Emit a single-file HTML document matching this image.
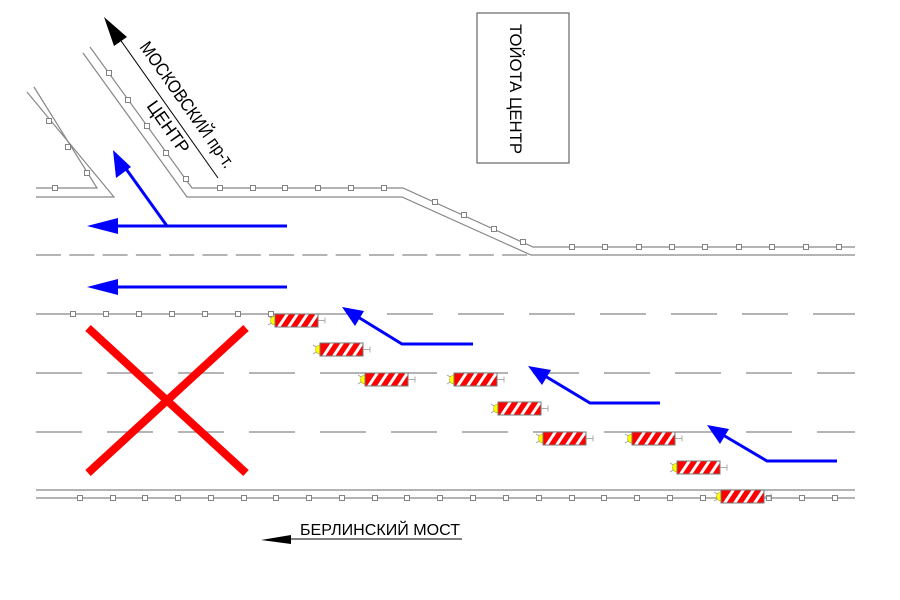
<!DOCTYPE html>
<html><head><meta charset="utf-8"><style>html,body{margin:0;padding:0;background:#fff}svg{display:block}</style></head>
<body>
<svg width="900" height="600" viewBox="0 0 900 600" xmlns="http://www.w3.org/2000/svg">
<defs>
<clipPath id="cc"><rect x="0" y="0" width="43" height="13"/></clipPath>
<g id="car">
<line x1="-7" y1="2" x2="-2" y2="5" stroke="#999" stroke-width="0.8"/>
<line x1="-7" y1="11" x2="-2" y2="8" stroke="#999" stroke-width="0.8"/>
<circle cx="0" cy="6.5" r="4.5" fill="#ff0" stroke="#aa0" stroke-width="0.6"/>
<rect x="0" y="0" width="43" height="13" fill="#f00"/>
<g clip-path="url(#cc)" stroke="#fff" stroke-width="3">
<line x1="3" y1="14" x2="13" y2="-1"/><line x1="13" y1="14" x2="23" y2="-1"/><line x1="23" y1="14" x2="33" y2="-1"/><line x1="33" y1="14" x2="43" y2="-1"/>
</g>
<rect x="0" y="0" width="43" height="13" fill="none" stroke="#777" stroke-width="1"/>
<line x1="43" y1="6.5" x2="50" y2="6.5" stroke="#999" stroke-width="0.8"/>
<line x1="50" y1="3.5" x2="50" y2="9.5" stroke="#999" stroke-width="0.8"/>
</g>
<rect id="p" x="-2.5" y="-2.5" width="5" height="5" fill="#fff" stroke="#777" stroke-width="0.9"/>
</defs>

<g stroke="#888" stroke-width="1.2" fill="none">
<polyline points="34,87 97,188 36,188"/>
<polyline points="27,92 114,197 36,197"/>
<polyline points="90,47 192,188 403,188 533,247 855,247"/>
<polyline points="83,53 187,197 402,197 531,255 855,255"/>
<line x1="36" y1="255" x2="531" y2="255" stroke-dasharray="25 8.3"/>
<line x1="36" y1="314" x2="300" y2="314"/>
<line x1="316" y1="314" x2="855" y2="314" stroke-dasharray="46 25"/>
<line x1="36" y1="373" x2="855" y2="373" stroke-dasharray="46 25"/>
<line x1="36" y1="432" x2="855" y2="432" stroke-dasharray="46 25"/>
<line x1="36" y1="490" x2="855" y2="490"/>
<line x1="36" y1="498" x2="855" y2="498"/>
</g>

<g>
<use href="#p" x="55" y="188"/><use href="#p" x="49" y="121"/><use href="#p" x="68" y="147"/><use href="#p" x="87" y="173"/>
<use href="#p" x="109" y="73"/><use href="#p" x="128" y="100"/><use href="#p" x="147" y="126"/><use href="#p" x="166" y="153"/><use href="#p" x="186" y="179"/>
<use href="#p" x="220" y="188"/><use href="#p" x="253" y="188"/><use href="#p" x="285" y="188"/><use href="#p" x="318" y="188"/><use href="#p" x="351" y="188"/><use href="#p" x="384" y="188"/>
<use href="#p" x="435" y="202"/><use href="#p" x="464" y="215"/><use href="#p" x="494" y="229"/><use href="#p" x="523" y="242"/>
<use href="#p" x="572" y="247"/><use href="#p" x="605" y="247"/><use href="#p" x="639" y="247"/><use href="#p" x="672" y="247"/><use href="#p" x="705" y="247"/><use href="#p" x="739" y="247"/><use href="#p" x="772" y="247"/><use href="#p" x="806" y="247"/><use href="#p" x="839" y="247"/>
<use href="#p" x="73" y="314"/><use href="#p" x="106" y="314"/><use href="#p" x="139" y="314"/><use href="#p" x="172" y="314"/><use href="#p" x="205" y="314"/><use href="#p" x="238" y="314"/><use href="#p" x="271" y="314"/>
<use href="#p" x="80" y="498"/><use href="#p" x="113" y="498"/><use href="#p" x="145" y="498"/><use href="#p" x="178" y="498"/><use href="#p" x="211" y="498"/><use href="#p" x="244" y="498"/><use href="#p" x="276" y="498"/><use href="#p" x="309" y="498"/><use href="#p" x="342" y="498"/><use href="#p" x="375" y="498"/><use href="#p" x="407" y="498"/><use href="#p" x="440" y="498"/><use href="#p" x="473" y="498"/><use href="#p" x="506" y="498"/><use href="#p" x="539" y="498"/><use href="#p" x="572" y="498"/><use href="#p" x="604" y="498"/><use href="#p" x="637" y="498"/><use href="#p" x="670" y="498"/><use href="#p" x="703" y="498"/><use href="#p" x="769" y="498"/><use href="#p" x="802" y="498"/><use href="#p" x="835" y="498"/>
</g>

<g stroke="#f00" stroke-width="8">
<line x1="88" y1="328" x2="246" y2="473"/>
<line x1="246" y1="328" x2="88" y2="473"/>
</g>

<use href="#car" x="275" y="314"/>
<use href="#car" x="320" y="343"/>
<use href="#car" x="365" y="373"/>
<use href="#car" x="454" y="373"/>
<use href="#car" x="498" y="402"/>
<use href="#car" x="543" y="432"/>
<use href="#car" x="632" y="432"/>
<use href="#car" x="677" y="461"/>
<use href="#car" x="721" y="490"/>

<g stroke="#00f" stroke-width="3" fill="none">
<line x1="287" y1="226" x2="110" y2="226"/>
<line x1="167" y1="226" x2="124" y2="166"/>
<line x1="287" y1="287" x2="110" y2="287"/>
<polyline points="473,344 402,344 358,317"/>
<polyline points="660,403 590,403 545,376"/>
<polyline points="837,461 767,461 723,435"/>
</g>
<g fill="#00f">
<polygon points="87,226 118,218 118,234"/>
<polygon points="87,287 118,279 118,295"/>
<polygon points="113,150 116,178 131,167"/>
<polygon points="342,307 355,326 364,311"/>
<polygon points="528,366 542,385 551,370"/>
<polygon points="707,425 720,444 729,429"/>
</g>

<line x1="112" y1="28" x2="218" y2="178" stroke="#000" stroke-width="1"/>
<polygon points="104,17 114,46 127,37" fill="#000"/>
<g font-family="Liberation Sans, sans-serif" font-size="18" fill="#000">
<text transform="translate(139,47) rotate(54.8)" textLength="150" lengthAdjust="spacingAndGlyphs">МОСКОВСКИЙ пр-т.</text>
<text transform="translate(146,106) rotate(54.8)" textLength="60" lengthAdjust="spacingAndGlyphs">ЦЕНТР</text>
</g>

<rect x="477" y="13" width="92" height="150" fill="#fff" stroke="#666" stroke-width="1.2"/>
<text transform="translate(510,24) rotate(90)" font-family="Liberation Sans, sans-serif" font-size="17" fill="#000" textLength="130" lengthAdjust="spacingAndGlyphs">ТОЙОТА ЦЕНТР</text>

<line x1="285" y1="539" x2="462" y2="539" stroke="#000" stroke-width="1"/>
<polygon points="261,540 291,535 291,544" fill="#000"/>
<text x="300" y="535" font-family="Liberation Sans, sans-serif" font-size="16" fill="#000" textLength="160" lengthAdjust="spacingAndGlyphs">БЕРЛИНСКИЙ МОСТ</text>
</svg>
</body></html>
